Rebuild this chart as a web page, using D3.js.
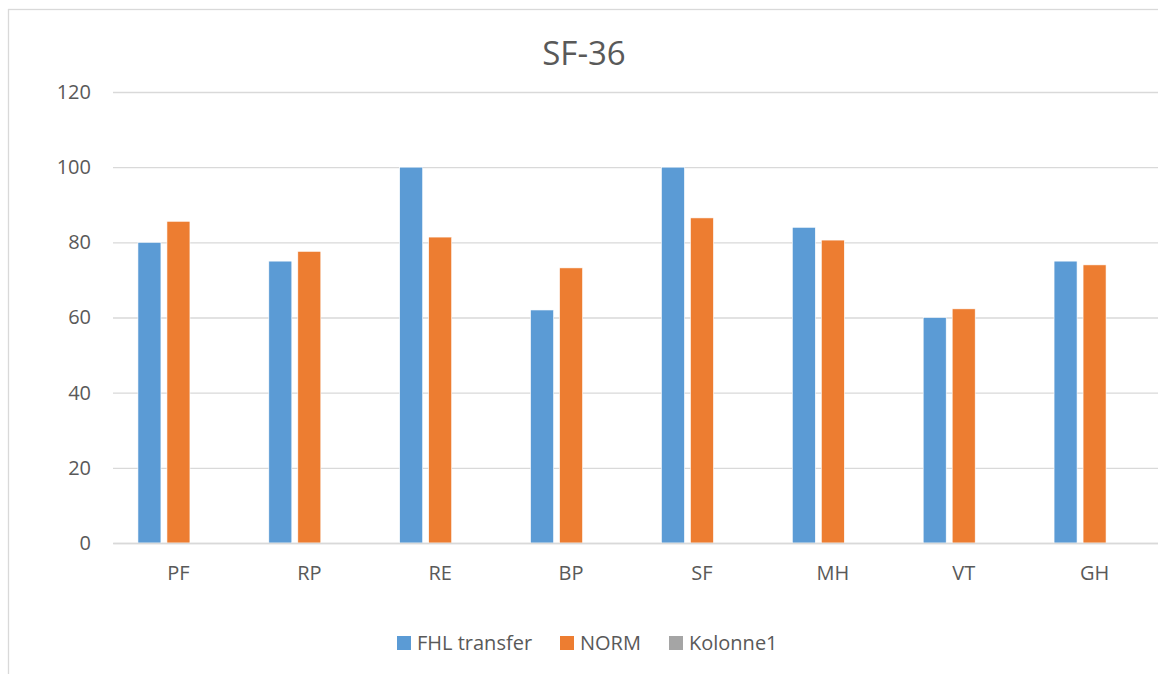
<!DOCTYPE html>
<html>
<head>
<meta charset="utf-8">
<script src="https://cdn.jsdelivr.net/npm/d3@7"></script>
<style>
  html, body { margin: 0; padding: 0; background: #fff; }
  svg { display: block; font-family: "Open Sans", sans-serif; }
</style>
</head>
<body>
<svg id="chart" width="1158" height="674"></svg>
<script>
const title = "SF-36";
const categories = ["PF", "RP", "RE", "BP", "SF", "MH", "VT", "GH"];
const seriesNames = ["FHL transfer", "NORM", "Kolonne1"];
const fhlTransfer = [80, 75, 100, 62, 100, 84, 60, 75];
const norm = [85.6, 77.6, 81.4, 73.2, 86.5, 80.6, 62.3, 74];
const kolonne1 = [null, null, null, null, null, null, null, null];
const yTicks = [0, 20, 40, 60, 80, 100, 120];
const colors = ["#5B9BD5", "#ED7D31", "#A5A5A5"];

const seriesValues = [fhlTransfer, norm, kolonne1];

const svg = d3.select("#chart");

// chart border
svg.append("rect")
  .attr("x", 8.5).attr("y", 9.5)
  .attr("width", 1200).attr("height", 720)
  .attr("fill", "none").attr("stroke", "#d9d9d9").attr("stroke-width", 1.3);

const plot = { left: 113, right: 1160, top: 92, bottom: 543 };

const x0 = d3.scaleBand().domain(categories).range([plot.left, plot.right]).padding(0);
const x1 = d3.scaleBand().domain(seriesNames).range([-40.5, 40.5]).paddingInner(0.207).paddingOuter(0);
const y = d3.scaleLinear().domain([0, 120]).range([plot.bottom, plot.top]);

// title
svg.append("text")
  .attr("x", 584).attr("y", 65)
  .attr("text-anchor", "middle")
  .attr("fill", "#595959")
  .style("font-size", "33px")
  .text(title);

// y axis gridlines + labels
const yAxis = d3.axisLeft(y).tickValues(yTicks).tickSize(-(plot.right - plot.left)).tickPadding(22);
const gy = svg.append("g").attr("transform", `translate(${plot.left},0)`).call(yAxis);
gy.select(".domain").remove();
gy.selectAll(".tick line").attr("stroke", "#d9d9d9").attr("stroke-width", 1.3);
gy.selectAll(".tick text").attr("fill", "#595959").style("font-size", "20px").attr("font-family", "Open Sans, sans-serif");

// bars
const barGroups = svg.append("g");
seriesNames.forEach((name, si) => {
  const vals = seriesValues[si];
  barGroups.selectAll(null)
    .data(categories.map((c, i) => ({ c, v: vals[i] })).filter(d => d.v != null))
    .enter().append("rect")
    .attr("x", d => x0(d.c) + x0.bandwidth() / 2 + x1(name))
    .attr("y", d => y(d.v))
    .attr("width", x1.bandwidth())
    .attr("height", d => y(0) - y(d.v))
    .attr("fill", colors[si])
    .attr("stroke", "#fff").attr("stroke-width", 0.6);
});

// x axis
const xAxis = d3.axisBottom(x0).tickSize(0).tickPadding(23);
const gx = svg.append("g").attr("transform", `translate(0,${plot.bottom})`).call(xAxis);
gx.select(".domain").attr("stroke", "#d9d9d9").attr("stroke-width", 1.3);
gx.selectAll(".tick text").attr("fill", "#595959").style("font-size", "20px").attr("font-family", "Open Sans, sans-serif");

// legend
const legendItems = [
  { name: seriesNames[0], sx: 397, tx: 417 },
  { name: seriesNames[1], sx: 560, tx: 580 },
  { name: seriesNames[2], sx: 669, tx: 689 }
];
const lg = svg.append("g");
legendItems.forEach((d, i) => {
  lg.append("rect").attr("x", d.sx).attr("y", 636).attr("width", 14).attr("height", 14).attr("fill", colors[i]);
  lg.append("text").attr("x", d.tx).attr("y", 650).attr("fill", "#595959")
    .style("font-size", "20px").text(d.name);
});
</script>
</body>
</html>
